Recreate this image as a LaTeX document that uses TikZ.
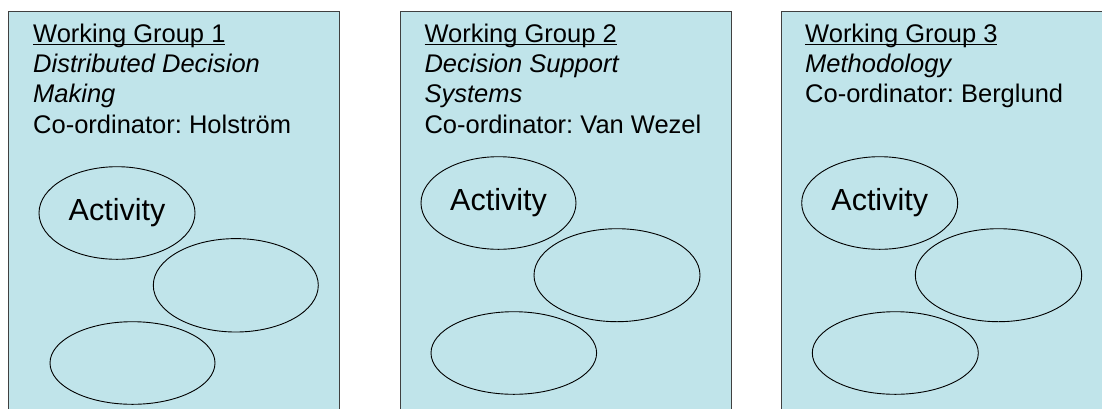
\documentclass[tikz,border=0pt]{standalone}
\usepackage{fontspec}
\setmainfont{Liberation Sans}
\usetikzlibrary{shapes.geometric}
\definecolor{wgfill}{RGB}{192,228,234}
\definecolor{wgedge}{RGB}{64,64,64}
\frenchspacing
% underline that runs through the descenders, as in slide text
\newcommand\wgul[1]{\setbox0\hbox{#1}\rlap{\rule[-2.9pt]{\wd0}{1.1pt}}\box0}
\tikzset{
  wgbox/.style={fill=wgfill, draw=wgedge, line width=1.2pt},
  wgline/.style={anchor=base west, inner sep=0pt, font=\fontsize{25.5}{30}\selectfont},
  act/.style={ellipse, draw=black, line width=0.9pt, inner sep=0pt,
              minimum width=#1, font=\fontsize{30.5}{36}\selectfont},
}
\begin{document}
\begin{tikzpicture}[x=1pt, y=-1pt]
\path[use as bounding box, clip] (0,0) rectangle (1102,408);
\fill[white] (0,0) rectangle (1102,408);

% group panels (open at the bottom of the page)
\draw[wgbox] (8.5,11.7) rectangle (339.5,430);
\draw[wgbox] (400.7,11.7) rectangle (731.3,430);
\draw[wgbox] (781.7,11.7) rectangle (1112.5,430);

% Working Group 1
\node[wgline] (t1a) at (33,42) {\wgul{Working Group 1}};
\node[wgline] (t1b) at (33,72.5) {\itshape Distributed Decision};
\node[wgline] (t1c) at (33,102.5) {\itshape Making};
\node[wgline] (t1d) at (33,133) {Co-ordinator: Holstr\"om};
\node[act=156pt, minimum height=92.6pt] (a1) at (117,213) {Activity};
\node[act=165pt, minimum height=93.4pt] (b1) at (235.8,285.3) {};
\node[act=165pt, minimum height=82.6pt] (c1) at (132.5,363) {};

% Working Group 2
\node[wgline] (t2a) at (424.3,42) {\wgul{Working Group 2}};
\node[wgline] (t2b) at (424.3,72.5) {\itshape Decision Support};
\node[wgline] (t2c) at (424.3,102.5) {\itshape Systems};
\node[wgline] (t2d) at (424.3,133) {Co-ordinator: Van Wezel};
\node[act=155pt, minimum height=92.6pt] (a2) at (498.5,203) {Activity};
\node[act=166pt, minimum height=93pt] (b2) at (617,275.2) {};
\node[act=165.6pt, minimum height=82.6pt] (c2) at (513.8,353) {};

% Working Group 3
\node[wgline] (t3a) at (805,42) {\wgul{Working Group 3}};
\node[wgline] (t3b) at (805,72.5) {\itshape Methodology};
\node[wgline] (t3c) at (805,102.5) {Co-ordinator: Berglund};
\node[act=156pt, minimum height=92.6pt] (a3) at (879.7,203) {Activity};
\node[act=166.4pt, minimum height=93pt] (b3) at (998.5,275.2) {};
\node[act=166pt, minimum height=82.6pt] (c3) at (895.3,353) {};
\end{tikzpicture}
\end{document}
